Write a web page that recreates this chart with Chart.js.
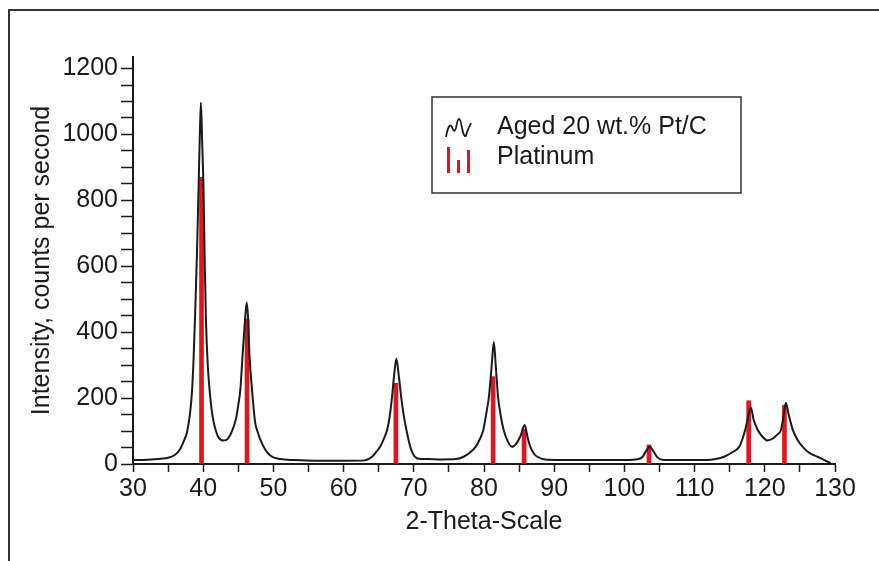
<!DOCTYPE html>
<html>
<head>
<meta charset="utf-8">
<script src="https://cdn.jsdelivr.net/npm/chart.js@4"></script>
<style>
  html, body { margin: 0; padding: 0; background: #fff; }
  #wrap { position: relative; width: 879px; height: 561px; }
</style>
</head>
<body>
<div id="wrap"><canvas id="xrd"></canvas></div>
<script>
const twoTheta = [
  30, 32, 34, 35, 36, 36.7, 37.2, 37.7, 38.1, 38.4, 38.65, 38.86, 39.1, 39.33, 39.5, 39.67,
  39.85, 40.05, 40.2, 40.4, 40.65, 40.9, 41.2, 41.5, 41.85, 42.2, 42.9, 43.5, 44.1, 44.7,
  45.0, 45.3, 45.6, 45.9, 46.2, 46.4, 46.6, 46.95, 47.4, 47.8, 48.1, 48.8, 49.6, 51, 53,
  56, 60, 63, 64.05, 64.7, 65.2, 65.7, 66.2, 66.6, 66.9, 67.2, 67.52, 67.85, 68.2, 68.55,
  68.95, 69.5, 69.9, 70.5, 72, 74, 76, 77.1, 78, 78.8, 79.4, 79.9, 80.3, 80.7, 81.1, 81.4,
  81.7, 82.0, 82.4, 82.8, 83.4, 84.0, 84.6, 85.2, 85.8, 86.2, 86.6, 87.1, 87.6, 89, 95,
  100, 102, 102.6, 103.1, 103.6, 104.1, 104.7, 105.6, 108, 111.8, 113, 114.2, 115.3,
  116.35, 116.8, 117.2, 117.6, 118.0, 118.4, 119.0, 119.7, 120.4, 121.2, 121.8, 122.3,
  122.7, 123.0, 123.4, 124.0, 124.7, 125.4, 126.4, 127.5, 128.5, 129.4
];
const intensity = [
  12, 13, 16, 19, 28, 45, 68, 97, 150, 218, 330, 460, 630, 830, 980, 1097,
  980, 830, 630, 430, 300, 227, 165, 126, 98, 80, 71, 76, 100, 140,
  180, 227, 328, 420, 490, 440, 328, 227, 126, 95, 76, 45, 25, 15, 12,
  10, 10, 11, 22, 38, 52, 75, 103, 150, 204, 270, 320, 270, 204, 150,
  103, 52, 30, 17, 15, 14, 15, 22, 35, 52, 75, 103, 150, 204, 300, 370,
  290, 204, 145, 103, 68, 52, 62, 85, 118, 82, 52, 32, 22, 13, 12,
  12, 15, 22, 40, 52, 40, 20, 12, 12, 12, 15, 22, 35,
  52, 75, 103, 140, 172, 135, 103, 82, 71, 78, 90, 103,
  150, 186, 150, 103, 72, 52, 33, 22, 12, 2
];

// platinum reference lines
const ptAngles = [39.76, 46.24, 67.45, 81.29, 85.71, 103.5, 117.7, 122.8];
const ptHeights = [870, 440, 245, 265, 105, 58, 192, 178];

const seriesNames = ['Aged 20 wt.% Pt/C', 'Platinum'];
const xTitle = '2-Theta-Scale';
const yTitle = 'Intensity, counts per second';

const FONT = '"Liberation Sans", Arial, sans-serif';
const INK = '#1a1a1a';
const RED = '#e3141c';

// outer frame + legend box drawn on top of the chart
const frameLegend = {
  id: 'frameLegend',
  afterDraw(chart) {
    const ctx = chart.ctx;
    ctx.save();
    ctx.strokeStyle = '#333';
    ctx.lineWidth = 2;
    ctx.beginPath();
    ctx.moveTo(9, 561);
    ctx.lineTo(9, 10);
    ctx.lineTo(879, 10);
    ctx.stroke();

    ctx.lineWidth = 1.5;
    ctx.strokeRect(432, 97, 309, 96);

    // wavy icon
    ctx.strokeStyle = INK;
    ctx.lineWidth = 1.8;
    ctx.beginPath();
    ctx.moveTo(446, 137);
    ctx.quadraticCurveTo(449, 121, 452, 127);
    ctx.quadraticCurveTo(454, 134, 456, 128);
    ctx.quadraticCurveTo(459, 110, 462, 128);
    ctx.quadraticCurveTo(465, 142, 467, 132);
    ctx.lineTo(471, 123);
    ctx.stroke();

    // bar icon
    ctx.fillStyle = RED;
    ctx.fillRect(447, 147, 3, 26);
    ctx.fillRect(457, 160, 3, 13);
    ctx.fillRect(467, 150, 3, 23);

    ctx.fillStyle = INK;
    ctx.font = '25px ' + FONT;
    ctx.textBaseline = 'middle';
    ctx.fillText(seriesNames[0], 497, 127);
    ctx.fillText(seriesNames[1], 497, 157);
    ctx.restore();
  }
};

const ctx = document.getElementById('xrd').getContext('2d');
new Chart(ctx, {
  type: 'line',
  data: {
    datasets: [{
      label: seriesNames[0],
      data: twoTheta.map((t, i) => ({ x: t, y: intensity[i] })),
      borderColor: INK,
      borderWidth: 2,
      pointRadius: 0,
      cubicInterpolationMode: 'monotone',
      fill: false,
      order: 0
    }, {
      type: 'bar',
      label: seriesNames[1],
      data: ptAngles.map((t, i) => ({ x: t, y: ptHeights[i] })),
      backgroundColor: RED,
      barThickness: 4,
      order: 1
    }]
  },
  options: {
    responsive: true,
    maintainAspectRatio: false,
    animation: false,
    layout: { padding: { top: 57, right: 44, left: 0, bottom: 0 } },
    plugins: {
      legend: { display: false },
      tooltip: { enabled: false }
    },
    scales: {
      x: {
        type: 'linear',
        min: 30,
        max: 130,
        offset: false,
        afterFit: s => { s.height = 97; },
        border: { color: INK, width: 2 },
        grid: { drawOnChartArea: false, offset: false, color: INK, tickLength: 8, tickWidth: 1.5 },
        ticks: {
          stepSize: 5,
          autoSkip: false,
          maxRotation: 0,
          padding: 2,
          color: INK,
          font: { family: FONT, size: 25 },
          callback: v => (v % 10 === 0 ? v : '')
        },
        title: {
          display: true,
          text: xTitle,
          color: INK,
          font: { family: FONT, size: 25 },
          padding: { top: 0, bottom: 24 }
        }
      },
      y: {
        min: 0,
        max: 1235,
        afterFit: s => { s.width = 133; },
        border: { color: INK, width: 2 },
        grid: { drawOnChartArea: false, color: INK, tickLength: 12, tickWidth: 1.5 },
        ticks: {
          stepSize: 50,
          includeBounds: false,
          autoSkip: false,
          padding: 3,
          color: INK,
          font: { family: FONT, size: 25 },
          callback: v => (v % 200 === 0 ? v : '')
        },
        title: {
          display: true,
          text: yTitle,
          color: INK,
          font: { family: FONT, size: 25 },
          padding: { top: 27, bottom: 0 }
        }
      }
    }
  },
  plugins: [frameLegend]
});
</script>
</body>
</html>
